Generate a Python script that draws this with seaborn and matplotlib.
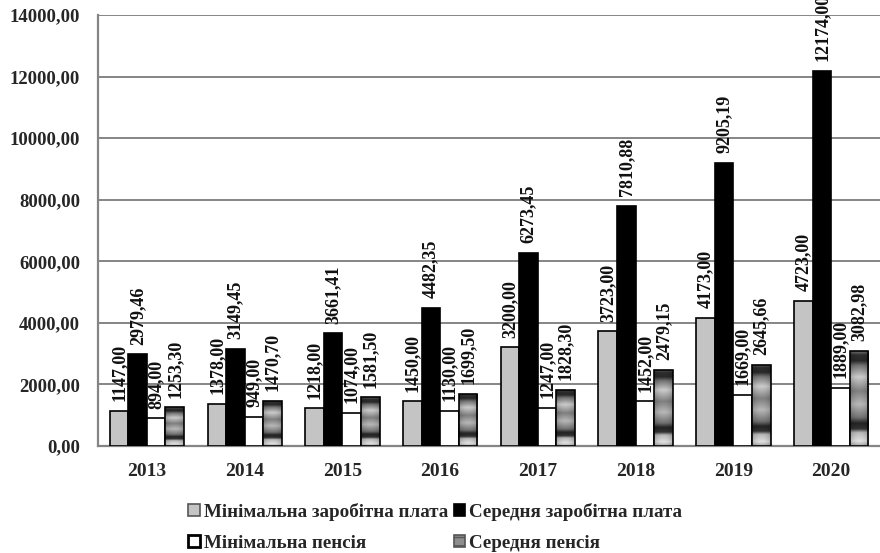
import numpy as np
import pandas as pd
import matplotlib
matplotlib.use("Agg")
import matplotlib.pyplot as plt
from matplotlib.patches import Patch
from matplotlib.ticker import FuncFormatter, FixedLocator
import seaborn as sns

# Data (UAH)
years = ["2013", "2014", "2015", "2016", "2017", "2018", "2019", "2020"]
min_wage = [1147.00, 1378.00, 1218.00, 1450.00, 3200.00, 3723.00, 4173.00, 4723.00]
avg_wage = [2979.46, 3149.45, 3661.41, 4482.35, 6273.45, 7810.88, 9205.19, 12174.00]
min_pension = [894.00, 949.00, 1074.00, 1130.00, 1247.00, 1452.00, 1669.00, 1889.00]
avg_pension = [1253.30, 1470.70, 1581.50, 1699.50, 1828.30, 2479.15, 2645.66, 3082.98]
series = ["Мінімальна заробітна плата", "Середня заробітна плата",
          "Мінімальна пенсія", "Середня пенсія"]
y_ticks = [0, 2000, 4000, 6000, 8000, 10000, 12000, 14000]

values = [min_wage, avg_wage, min_pension, avg_pension]
df = pd.DataFrame(
    [(yr, name, v) for name, vals in zip(series, values) for yr, v in zip(years, vals)],
    columns=["year", "series", "value"],
)

sns.set_style("white")
plt.rcParams["font.family"] = ["Liberation Serif", "DejaVu Serif"]
plt.rcParams["font.weight"] = "bold"

palette = dict(zip(series, ["#c4c4c4", "#000000", "#ffffff", "#8e8e8e"]))

fig = plt.figure(figsize=(8.8, 5.53), dpi=100)
ax = fig.add_axes([0.1114, 0.1935, 0.8886, 0.7794])

sns.barplot(data=df, x="year", y="value", hue="series", order=years,
            hue_order=series, palette=palette, saturation=1, width=0.76,
            edgecolor="black", linewidth=1.2, errorbar=None, legend=False,
            ax=ax, zorder=3)

def fmt(v):
    return f"{v:.2f}".replace(".", ",")

# Value labels above each bar, rotated
for cont, vals in zip(ax.containers, values):
    ax.bar_label(cont, labels=[fmt(v) for v in vals], rotation=90, padding=7,
                 fontsize=13, fontweight="bold", color="#111111")

# Banded gray fill for the average pension bars
stops_t = [0.00, 0.04, 0.10, 0.15, 0.27, 0.42, 0.56, 0.70, 0.76, 0.82, 0.86, 0.95, 1.00]
stops_g = [0.45, 0.18, 0.16, 0.45, 0.80, 0.50, 0.72, 0.45, 0.14, 0.20, 0.72, 0.88, 0.65]
tt = np.linspace(0, 1, 200)
profile = np.interp(tt, stops_t, stops_g)
side = 1 - 0.18 * np.abs(np.linspace(-1, 1, 16)) ** 2
texture = np.clip(profile[:, None] * side[None, :], 0, 1)
for patch in ax.containers[3].patches:
    x, y = patch.get_x(), patch.get_y()
    w, h = patch.get_width(), patch.get_height()
    im = ax.imshow(texture, extent=(x, x + w, y, y + h), aspect="auto",
                   cmap="gray", vmin=0, vmax=1, interpolation="bilinear",
                   origin="upper", zorder=3)
    im.set_clip_path(patch)
    patch.set_facecolor("none")
    patch.set_zorder(3.5)

ax.set_xlim(-0.5, len(years) - 0.5)
ax.set_ylim(0, 14000)
ax.set_yticks(y_ticks)
ax.yaxis.set_major_formatter(FuncFormatter(lambda v, p: fmt(v)))
ax.grid(axis="y", color="#858585", linewidth=1.4, zorder=0)
ax.grid(axis="x", visible=False)
ax.set_axisbelow(True)
ax.set_xlabel("")
ax.set_ylabel("")

for s in ["top", "right"]:
    ax.spines[s].set_visible(False)
for s in ["left", "bottom"]:
    ax.spines[s].set_color("#858585")
    ax.spines[s].set_linewidth(1.6)

ax.xaxis.set_minor_locator(FixedLocator(np.arange(-0.5, len(years), 1.0)))
ax.tick_params(axis="x", which="major", length=0, pad=12, labelsize=14)
ax.tick_params(axis="x", which="minor", length=5, color="#858585", width=1.2)
ax.tick_params(axis="y", length=5, color="#858585", width=1.2, pad=8, labelsize=13.5)
for lab in ax.get_xticklabels() + ax.get_yticklabels():
    lab.set_fontweight("bold")

handles = [
    Patch(facecolor="#c4c4c4", edgecolor="#555555", linewidth=1.2),
    Patch(facecolor="#ffffff", edgecolor="#000000", linewidth=2.0),
    Patch(facecolor="#000000", edgecolor="#000000", linewidth=1.2),
    Patch(facecolor="#8e8e8e", edgecolor="#555555", linewidth=1.2, hatch="--"),
]
labels = [series[0], series[2], series[1], series[3]]
fig.legend(handles, labels, loc="upper left", bbox_to_anchor=(0.214, 0.091),
           ncol=2, frameon=False, borderpad=0, borderaxespad=0,
           handlelength=0.6, handleheight=0.6, handletextpad=0.2,
           columnspacing=0.3, labelspacing=0.75,
           prop={"family": ["Liberation Serif", "DejaVu Serif"],
                 "weight": "bold", "size": 13.7})

fig.savefig("out.png", dpi=100)
